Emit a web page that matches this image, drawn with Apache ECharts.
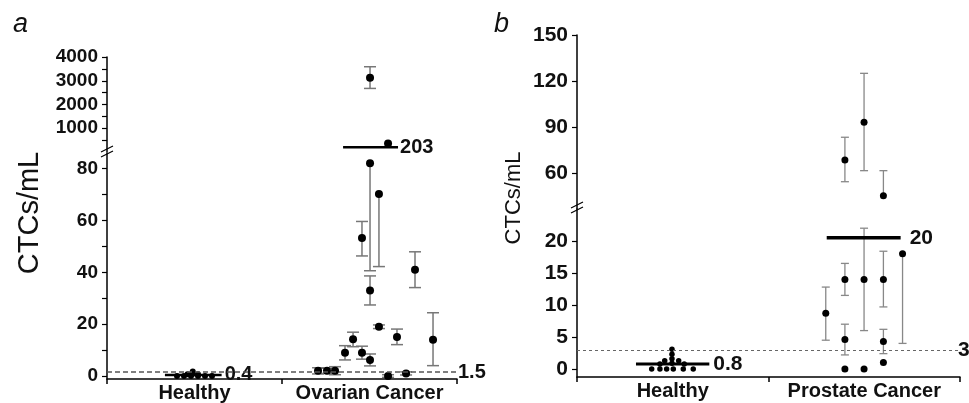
<!DOCTYPE html>
<html><head><meta charset="utf-8">
<script src="https://cdn.jsdelivr.net/npm/echarts@6/dist/echarts.min.js"></script>
<style>html,body{margin:0;padding:0;background:#fff}#c{width:969px;height:403px}</style>
</head><body><div id="c"></div>
<script>
// ---------- data ----------
const categoriesA = ['Healthy', 'Ovarian Cancer'];
const categoriesB = ['Healthy', 'Prostate Cancer'];
const catPositions = [0.5, 1.5];
const catBoundaries = [0, 1, 2];

const yLabelsAUpper = [1000, 2000, 3000, 4000];
const yTicksAUpper = [500, 1000, 1500, 2000, 2500, 3000, 3500, 4000];
const yLabelsALower = [0, 20, 40, 60, 80];
const yTicksALower = [0, 10, 20, 30, 40, 50, 60, 70, 80];
const yLabelsBUpper = [60, 90, 120, 150];
const yLabelsBLower = [0, 5, 10, 15, 20];

// panel a, healthy donors: [x position, CTCs/mL]
const healthyA = [[0.40, 0], [0.44, 0], [0.48, 0], [0.52, 0], [0.56, 0], [0.60, 0],
  [0.46, 0.7], [0.49, 1.7], [0.52, 0.7], [0.49, 0.9]];
// panel a, ovarian cancer (lower scale): [x position, CTCs/mL, low, high]
const ovarianLower = [
  [1.206, 2, 0.8, 3.2], [1.257, 2, 1.0, 3.0], [1.303, 2, 0.5, 3.6],
  [1.36, 9, 6.2, 11.7], [1.406, 14.2, 11.3, 16.9], [1.457, 9, 6.5, 11.5],
  [1.503, 6.2, 3.9, 8.5], [1.503, 33, 27.4, 38.6], [1.457, 53.2, 46.3, 59.6],
  [1.503, 82, 40.6, 82], [1.554, 70.2, 42.2, 70.2], [1.554, 19, 18.3, 19.7],
  [1.606, 0, -0.5, 0.5], [1.657, 15, 12.1, 18.1], [1.709, 1, 0.4, 1.6],
  [1.76, 41, 34.1, 47.9], [1.863, 14, 4.0, 24.4]
];
// panel a, ovarian cancer (upper scale)
const ovarianUpper = [[1.503, 3130, 2677, 3590], [1.606, 360, 360, 360]];
// group means: [from x, to x, value]
const meanHealthyA = [0.331, 0.655, 0.4];
const meanOvarian = [1.349, 1.663, 203];
const meanLabelsA = ['0.4', '203'];
const thresholdA = 1.5;

// panel b, healthy donors: [x position, CTCs/mL]
const healthyB = [[0.39, 0], [0.433, 0], [0.468, 0], [0.503, 0], [0.555, 0], [0.607, 0],
  [0.496, 3.1], [0.496, 2.3], [0.496, 1.6], [0.458, 1.3], [0.531, 1.3],
  [0.433, 0.8], [0.56, 0.8], [0.496, 0.9]];
// panel b, prostate cancer (lower scale): [x, value, low, high]
const prostateLower = [
  [1.299, 8.7, 4.5, 12.8], [1.399, 14, 11.5, 16.5], [1.399, 4.6, 2.2, 7.0],
  [1.399, 0, 0, 0], [1.499, 14, 6, 22], [1.499, 0, 0, 0],
  [1.6, 14, 9.7, 18.4], [1.6, 4.3, 2.4, 6.2], [1.6, 1, 1, 1], [1.70, 18, 4, 18]
];
// panel b, prostate cancer (upper scale)
const prostateUpper = [[1.399, 68.5, 54.3, 83.3], [1.499, 93.1, 61.5, 125], [1.6, 45.2, 45.2, 61.5]];
const meanHealthyB = [0.308, 0.691, 0.8];
const meanProstate = [1.304, 1.69, 20.5];
const meanLabelsB = ['0.8', '20'];
const thresholdB = 3;

// ---------- helpers ----------
const FONT = '"Liberation Sans", Arial, sans-serif';
function lbl(size) { return { fontFamily: FONT, fontSize: size, fontWeight: 'bold', color: '#111' }; }

function errorRender(capHalf, color, width) {
  return function (params, api) {
    const x = api.value(0), v = api.value(1), lo = api.value(2), hi = api.value(3);
    const children = [];
    if (hi > lo) {
      const a = api.coord([x, lo]), b = api.coord([x, hi]);
      children.push({ type: 'line', shape: { x1: a[0], y1: a[1], x2: b[0], y2: b[1] }, style: { stroke: color, lineWidth: width } });
      if (hi > v) children.push({ type: 'line', shape: { x1: b[0] - capHalf, y1: b[1], x2: b[0] + capHalf, y2: b[1] }, style: { stroke: color, lineWidth: width } });
      if (lo < v) children.push({ type: 'line', shape: { x1: a[0] - capHalf, y1: a[1], x2: a[0] + capHalf, y2: a[1] }, style: { stroke: color, lineWidth: width } });
    }
    return { type: 'group', children };
  };
}
function meanRender(labels, width, gap, size) {
  return function (params, api) {
    const v = api.value(2);
    const p0 = api.coord([api.value(0), v]), p1 = api.coord([api.value(1), v]);
    return { type: 'group', children: [
      { type: 'line', shape: { x1: p0[0], y1: p0[1], x2: p1[0], y2: p1[1] }, style: { stroke: '#000', lineWidth: width } },
      { type: 'text', x: p1[0] + gap, y: p1[1], style: { text: labels[params.dataIndex], fill: '#111', fontFamily: FONT, fontSize: size, fontWeight: 'bold', align: 'left', verticalAlign: 'middle' } }
    ] };
  };
}
function xAx(gridIndex, show, cats) {
  return {
    type: 'value', gridIndex, min: 0, max: 2, show,
    splitLine: { show: false },
    axisLine: { show: true, onZero: false, lineStyle: { color: '#000', width: 1.5 } },
    axisTick: { show: true, length: 5, customValues: catBoundaries, lineStyle: { color: '#000', width: 1.5 } },
    axisLabel: Object.assign({ customValues: catPositions, margin: 4, formatter: v => (v < 1 ? cats[0] : cats[1]) }, lbl(20))
  };
}
function yAx(gridIndex, min, max, labels, ticks, size) {
  return {
    type: 'value', gridIndex, min, max,
    splitLine: { show: false },
    axisLine: { show: true, onZero: false, lineStyle: { color: '#000', width: 1.5 } },
    axisTick: { show: true, length: 5, customValues: ticks, lineStyle: { color: '#000', width: 1.2 } },
    axisLabel: Object.assign({ customValues: labels, margin: 9, formatter: v => String(v) }, lbl(size))
  };
}
function breakMark(cx, cy) {
  return { type: 'group', x: cx, y: cy, children: [
    { type: 'rect', shape: { x: -3, y: -3, width: 6, height: 5 }, style: { fill: '#fff' } },
    { type: 'line', shape: { x1: -6, y1: 0, x2: 6, y2: -6 }, style: { stroke: '#000', lineWidth: 1.2 } },
    { type: 'line', shape: { x1: -6, y1: 5, x2: 6, y2: -1 }, style: { stroke: '#000', lineWidth: 1.2 } }
  ] };
}
const dot = { color: '#000', opacity: 1 };

const chart = echarts.init(document.getElementById('c'));
chart.setOption({
  animation: false,
  backgroundColor: '#fff',
  title: [
    { text: 'a', left: 8, top: 6, textStyle: { fontFamily: FONT, fontSize: 27, fontStyle: 'italic', fontWeight: 'normal', color: '#111' } },
    { text: 'b', left: 489, top: 6, textStyle: { fontFamily: FONT, fontSize: 27, fontStyle: 'italic', fontWeight: 'normal', color: '#111' } }
  ],
  grid: [
    { left: 107, top: 57, width: 350, height: 95 },
    { left: 107, top: 153, width: 350, height: 226 },
    { left: 577, top: 35, width: 383, height: 174 },
    { left: 577, top: 209, width: 383, height: 168 }
  ],
  xAxis: [xAx(0, false, categoriesA), xAx(1, true, categoriesA), xAx(2, false, categoriesB), xAx(3, true, categoriesB)],
  yAxis: [
    yAx(0, 0, 4000, yLabelsAUpper, yTicksAUpper, 19),
    yAx(1, -1.15, 86, yLabelsALower, yTicksALower, 19),
    yAx(2, 36.5, 150, yLabelsBUpper, yLabelsBUpper, 21),
    yAx(3, -1.25, 25, yLabelsBLower, yLabelsBLower, 21)
  ],
  series: [
    // panel a
    { type: 'custom', xAxisIndex: 1, yAxisIndex: 1, clip: true, silent: true, renderItem: errorRender(6, '#777', 1.5), data: ovarianLower, z: 2 },
    { type: 'custom', xAxisIndex: 0, yAxisIndex: 0, clip: true, silent: true, renderItem: errorRender(6, '#777', 1.5), data: ovarianUpper, z: 2 },
    { type: 'scatter', xAxisIndex: 1, yAxisIndex: 1, symbolSize: 8, itemStyle: dot, silent: true, data: ovarianLower.map(d => [d[0], d[1]]), z: 3 },
    { type: 'scatter', xAxisIndex: 0, yAxisIndex: 0, symbolSize: 8, itemStyle: dot, silent: true, data: ovarianUpper.map(d => [d[0], d[1]]), z: 3 },
    { type: 'scatter', xAxisIndex: 1, yAxisIndex: 1, symbolSize: 6, itemStyle: dot, silent: true, data: healthyA, z: 3,
      markLine: { silent: true, symbol: ['none', 'none'], lineStyle: { color: '#555', width: 1.5, type: [5, 3] },
        label: Object.assign({ position: 'end', distance: 1, formatter: String(thresholdA) }, lbl(20)),
        data: [{ yAxis: thresholdA }] } },
    { type: 'custom', xAxisIndex: 1, yAxisIndex: 1, silent: true, renderItem: meanRender([meanLabelsA[0]], 2.5, 3, 20), data: [meanHealthyA], z: 4 },
    { type: 'custom', xAxisIndex: 0, yAxisIndex: 0, silent: true, renderItem: meanRender([meanLabelsA[1]], 2.5, 2, 20), data: [meanOvarian], z: 4 },
    // panel b
    { type: 'custom', xAxisIndex: 3, yAxisIndex: 3, clip: true, silent: true, renderItem: errorRender(4, '#888', 1.3), data: prostateLower, z: 2 },
    { type: 'custom', xAxisIndex: 2, yAxisIndex: 2, clip: true, silent: true, renderItem: errorRender(4, '#888', 1.3), data: prostateUpper, z: 2 },
    { type: 'scatter', xAxisIndex: 3, yAxisIndex: 3, symbolSize: 7, itemStyle: dot, silent: true, data: prostateLower.map(d => [d[0], d[1]]), z: 3 },
    { type: 'scatter', xAxisIndex: 2, yAxisIndex: 2, symbolSize: 7, itemStyle: dot, silent: true, data: prostateUpper.map(d => [d[0], d[1]]), z: 3 },
    { type: 'scatter', xAxisIndex: 3, yAxisIndex: 3, symbolSize: 5.5, itemStyle: dot, silent: true, data: healthyB, z: 3,
      markLine: { silent: true, symbol: ['none', 'none'], lineStyle: { color: '#666', width: 1, type: [3, 3] },
        label: Object.assign({ position: 'end', distance: -2, formatter: String(thresholdB) }, lbl(21)),
        data: [{ yAxis: thresholdB }] } },
    { type: 'custom', xAxisIndex: 3, yAxisIndex: 3, silent: true, renderItem: meanRender([meanLabelsB[0]], 3, 4, 21), data: [meanHealthyB], z: 4 },
    { type: 'custom', xAxisIndex: 3, yAxisIndex: 3, silent: true, renderItem: meanRender([meanLabelsB[1]], 3.5, 9, 21), data: [meanProstate], z: 4 }
  ],
  graphic: [
    breakMark(107, 152),
    breakMark(577, 208),
    { type: 'text', x: 30, y: 213, rotation: Math.PI / 2, style: { text: 'CTCs/mL', fill: '#111', fontFamily: FONT, fontSize: 29, align: 'center', verticalAlign: 'middle' } },
    { type: 'text', x: 514, y: 198, rotation: Math.PI / 2, style: { text: 'CTCs/mL', fill: '#111', fontFamily: FONT, fontSize: 22, align: 'center', verticalAlign: 'middle' } }
  ]
});
</script>
</body></html>
